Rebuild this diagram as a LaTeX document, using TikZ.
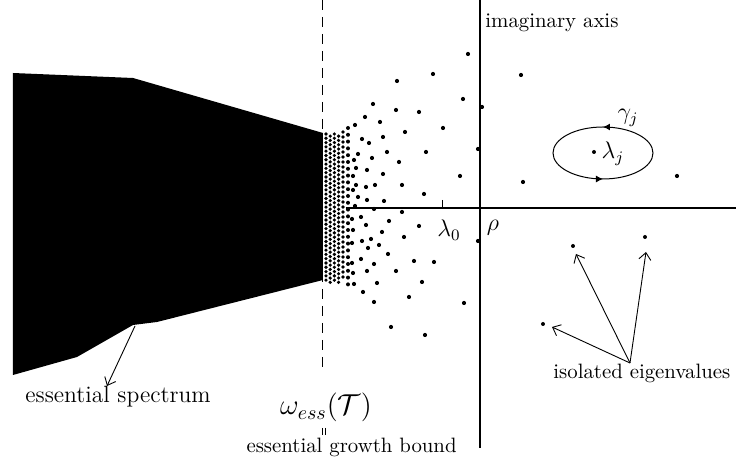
\documentclass[tikz,border=0pt]{standalone}
\usetikzlibrary{arrows.meta,decorations.markings}
\begin{document}
\begin{tikzpicture}[x=0.5pt,y=-0.5pt,
  axisline/.style={line width=0.7pt},
  thinarrow/.style={line width=0.45pt,-{Straight Barb[length=3.5pt,width=6pt]}},
  lbl/.style={font=\fontsize{10.4}{12.5}\selectfont, inner sep=0pt},
  eigdot/.style={circle, fill, inner sep=0pt, minimum size=2pt},
  contour/.style={line width=0.5pt, decoration={markings,
     mark=at position 0.25 with {\arrow{Latex[length=3.5pt,width=3.5pt]}},
     mark=at position 0.75 with {\arrow{Latex[length=3.5pt,width=3.5pt]}}},
     postaction={decorate}}]
\useasboundingbox (0,0) rectangle (736,458);
% essential spectrum region
\fill (13,73) -- (133,78) -- (323,133) -- (323,280) -- (157,322) -- (133,325) -- (77,357) -- (13,375) -- cycle;
% essential growth bound line
\coordinate (d0) at (323,0);
\coordinate (d1) at (323,373);
\draw[line width=0.5pt, dash pattern=on 5pt off 3.5pt] (d0) -- (d1);
% axes
\coordinate (h0) at (346,208);
\coordinate (h1) at (736,208);
\draw[axisline] (h0) -- (h1);
\coordinate (v0) at (480,0);
\coordinate (v1) at (480,448);
\draw[axisline] (v0) -- (v1);
\coordinate (t0) at (443,200);
\coordinate (t1) at (443,208);
\draw[line width=0.5pt] (t0) -- (t1);
% dense dots
\foreach \c in {0,...,3}{
  \foreach \r in {0,...,34}{
    \fill ({326+4.2*\c},{134+4.3*\r+2.15*mod(\c,2)}) circle[radius=0.9pt];
  }
}
\foreach \r in {0,...,29}{\fill (343,{132+5*\r}) circle[radius=0.95pt];}
\foreach \r in {0,...,23}{\fill (348,{128+6.8*\r}) circle[radius=1pt];}
% sparse dots
\foreach \px/\py in {468/54,433/74,397/81,521/75,463/99,373/104,396/110,482/107,478/149,523/182,677/176,
  419/112,365/117,380/122,443/128,405/132,355/125,362/139,383/137,369/143,387/152,426/152,358/154,
  372/158,399/162,356/168,367/170,383/174,460/176,353/176,402/185,375/185,366/187,356/185,424/194,
  384/201,358/197,367/200,355/206,374/209,402/212,361/217,389/221,366/225,419/226,352/219,382/232,
  404/237,478/241,371/239,362/241,352/243,379/245,368/248,388/254,414/261,434/262,361/259,374/264,
  352/263,396/271,367/271,353/273,422/282,377/283,354/284,363/292,409/297,374/302,464/303,391/327,
  425/335,353/230,354/160,353/190}{
  \fill (\px,\py) circle[radius=1.05pt];
}
% isolated eigenvalue with contour
\node[eigdot] (lj) at (594,152) {};
\coordinate (gc) at (603,153);
\draw[contour] (gc) ellipse [x radius=25pt, y radius=13pt];
\node[lbl, font=\large] (ljl) at (613,154) {$\lambda_j$};
\node[lbl, font=\large] (gjl) at (628,118) {$\gamma_j$};
% isolated eigenvalues
\node[eigdot] (e1) at (573,246) {};
\node[eigdot] (e2) at (645,237) {};
\node[eigdot] (e3) at (543,324) {};
\coordinate (iso) at (630,363);
\coordinate (a1) at (576,254);
\coordinate (a2) at (646,252);
\coordinate (a3) at (552,327);
\draw[thinarrow] (iso) -- (a1);
\draw[thinarrow] (iso) -- (a2);
\draw[thinarrow] (iso) -- (a3);
\node[lbl, anchor=base west] (isol) at (553,379) {isolated eigenvalues};
% labels
\node[lbl, anchor=base west] (imag) at (485,28) {imaginary axis};
\node[lbl, font=\large] (l0) at (449,230) {$\lambda_0$};
\node[lbl, font=\large] (rho) at (493,228) {$\rho$};
\coordinate (es0) at (135,326);
\coordinate (es1) at (107,386);
\draw[thinarrow] (es0) -- (es1);
\node[lbl, font=\fontsize{11.8}{14}\selectfont, anchor=base] (esl) at (118,403) {essential spectrum};
\node[lbl, font=\Large, anchor=base] (om) at (326,415) {$\omega_{ess}(\mathcal{T})$};
\coordinate (p1a) at (322.5,428); \coordinate (p1b) at (322.5,435);
\coordinate (p2a) at (325.8,428); \coordinate (p2b) at (325.8,435);
\draw[line width=0.45pt] (p1a) -- (p1b);
\draw[line width=0.45pt] (p2a) -- (p2b);
\node[lbl, anchor=base east] (egb) at (457,453) {essential growth bound};
\end{tikzpicture}
\end{document}
